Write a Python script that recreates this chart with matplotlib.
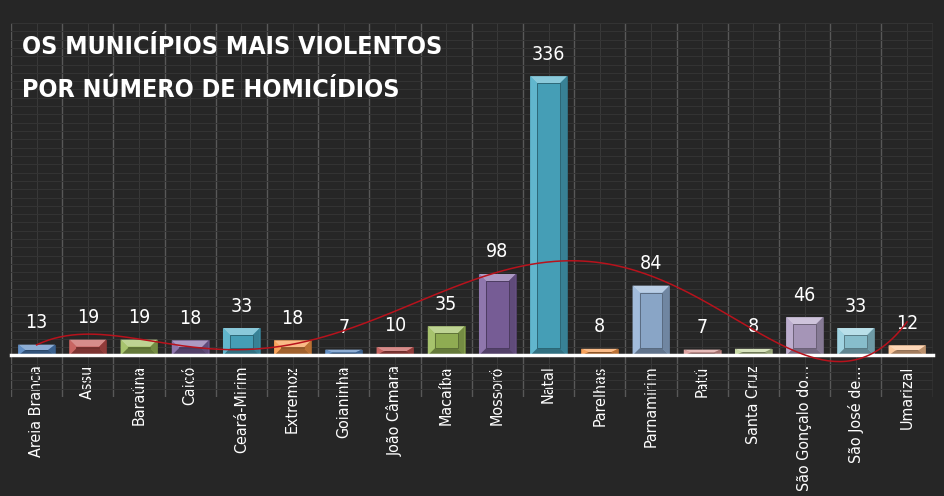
import matplotlib
matplotlib.use('Agg')
from matplotlib import pyplot as plt
from matplotlib.patches import Polygon
from matplotlib.colors import to_rgb
import numpy as np

cidades = ['Areia Branca', 'Assu', 'Baraúna', 'Caicó', 'Ceará-Mirim', 'Extremoz',
           'Goianinha', 'João Câmara', 'Macaíba', 'Mossoró', 'Natal', 'Parelhas',
           'Parnamirim', 'Patú', 'Santa Cruz', 'São Gonçalo do…', 'São José de…',
           'Umarizal']
homicidios = [13, 19, 19, 18, 33, 18, 7, 10, 35, 98, 336, 8, 84, 7, 8, 46, 33, 12]
cores = ['#4F81BD', '#C0504D', '#9BBB59', '#8064A2', '#4BACC6', '#F79646',
         '#4F81BD', '#C0504D', '#9BBB59', '#8064A2', '#4BACC6', '#F79646',
         '#95B3D7', '#D99694', '#C3D69B', '#B3A2C7', '#93CDDD', '#FAC090']
titulo = ['OS MUNICÍPIOS MAIS VIOLENTOS', 'POR NÚMERO DE HOMICÍDIOS']

fundo = '#262626'
plt.rcParams['font.family'] = ['DejaVu Sans']
plt.rcParams['font.stretch'] = 'condensed'


def mix(c, alvo, a):
    return tuple((1 - a) * np.array(to_rgb(c)) + a * np.array(to_rgb(alvo)))


fig = plt.figure(figsize=(9.45, 4.96), dpi=100, facecolor=fundo)
ax = fig.add_axes([11 / 945, 99 / 496, 921.6 / 945, 374 / 496], facecolor=fundo)

x = np.arange(len(cidades))
ax.set_xlim(-0.5, len(cidades) - 0.5)
ax.set_ylim(-50, 400)

# grid like the excel chart
ax.set_xticks(x)
ax.set_xticks(np.arange(-0.5, len(cidades), 1), minor=True)
ax.set_yticks(np.arange(-50, 401, 10))
ax.grid(which='major', axis='x', color='#383838', lw=0.8)
ax.grid(which='minor', axis='x', color='#585858', lw=1.0)
ax.grid(which='major', axis='y', color='#343434', lw=0.7)
ax.set_axisbelow(True)

bars = ax.bar(x, homicidios, width=0.72, color=cores, zorder=3,
              edgecolor=[mix(c, 'black', 0.35) for c in cores], linewidth=0.6)

# bevel facets
bbox = ax.get_position()
pxx = bbox.width * fig.get_figwidth() * fig.dpi / len(cidades)
pxy = bbox.height * fig.get_figheight() * fig.dpi / 450
for r, c in zip(bars, cores):
    x0, y0 = r.get_x(), r.get_y()
    x1, y1 = x0 + r.get_width(), y0 + r.get_height()
    dx = 7 / pxx
    dy = min(7 / pxy, r.get_height() / 2)
    faces = [
        ([(x0, y1), (x1, y1), (x1 - dx, y1 - dy), (x0 + dx, y1 - dy)], mix(c, 'white', 0.35)),
        ([(x0, y0), (x0, y1), (x0 + dx, y1 - dy), (x0 + dx, y0 + dy)], mix(c, 'white', 0.12)),
        ([(x1, y0), (x1, y1), (x1 - dx, y1 - dy), (x1 - dx, y0 + dy)], mix(c, 'black', 0.25)),
        ([(x0, y0), (x1, y0), (x1 - dx, y0 + dy), (x0 + dx, y0 + dy)], mix(c, 'black', 0.35)),
    ]
    for pts, fc in faces:
        ax.add_patch(Polygon(pts, closed=True, facecolor=fc, edgecolor='none', zorder=4))
    ax.add_patch(Polygon([(x0 + dx, y0 + dy), (x1 - dx, y0 + dy), (x1 - dx, y1 - dy),
                          (x0 + dx, y1 - dy)], closed=True,
                         facecolor=mix(c, 'black', 0.08),
                         edgecolor=mix(c, 'black', 0.45), lw=0.6, zorder=4))

ax.bar_label(bars, padding=9, color='white', fontsize=14)

# polynomial trendline (order 5, as in the sheet)
coef = np.polyfit(x, homicidios, 5)
xs = np.linspace(0, len(cidades) - 1, 300)
ax.plot(xs, np.polyval(coef, xs), color='#B8121C', lw=1.1, zorder=6)

for s in ['top', 'right', 'left']:
    ax.spines[s].set_visible(False)
ax.spines['bottom'].set_position(('data', 0))
ax.spines['bottom'].set_color('white')
ax.spines['bottom'].set_linewidth(2.5)
ax.spines['bottom'].set_zorder(5)
ax.tick_params(axis='y', left=False, labelleft=False)
ax.tick_params(axis='x', which='both', length=0, pad=7, colors='white')
ax.set_xticklabels(cidades, rotation=90, fontsize=11.5, color='white')

fig.text(22 / 945, 1 - 47 / 496, titulo[0], ha='left', va='center', color='white',
         fontsize=18, fontweight='bold')
fig.text(22 / 945, 1 - 90 / 496, titulo[1], ha='left', va='center', color='white',
         fontsize=18, fontweight='bold')

fig.savefig('out.png', dpi=100, facecolor=fundo)
